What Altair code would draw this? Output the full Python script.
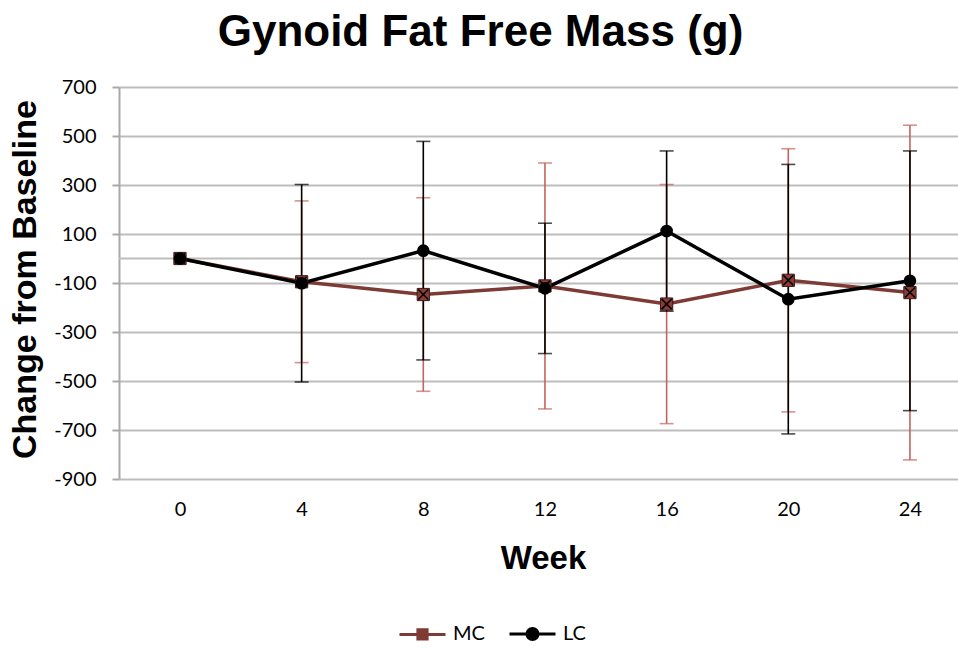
import altair as alt
import pandas as pd

# Change from baseline in gynoid fat free mass (g), mean and error, per week
weeks = [0, 4, 8, 12, 16, 20, 24]
series_names = ["MC", "LC"]
mc_mean = [0, -95, -147, -112, -186, -89, -139]
mc_err = [0, 330, 395, 502, 488, 537, 683]
lc_mean = [0, -101, 32, -122, 112, -166, -91]
lc_err = [0, 403, 446, 266, 327, 550, 530]
y_ticks = [700, 500, 300, 100, -100, -300, -500, -700, -900]

rows = []
for name, means, errs in (("MC", mc_mean, mc_err), ("LC", lc_mean, lc_err)):
    for w, m, e in zip(weeks, means, errs):
        rows.append({"week": w, "series": name, "mean": m,
                     "lo": m - e, "hi": m + e, "err": e})
df = pd.DataFrame(rows)

MC_LINE = "#7E3A35"
MC_BAR = "#C4645E"
MC_FILL = "#8E3C36"
LC_COLOR = "#000000"
GRID = "#BDBDBD"

x_scale = alt.Scale(domain=[-2.005, 25.58], nice=False, zero=False)
y_scale = alt.Scale(domain=[-900, 700], nice=False, zero=False)

x_enc = alt.X("week:Q", scale=x_scale,
              axis=alt.Axis(values=weeks, grid=False, domain=False, ticks=False,
                            labelFont="Lato", labelFontSize=20, labelColor="black",
                            labelPadding=20, labelFlush=False,
                            title="Week", titleFont="Liberation Sans",
                            titleFontSize=33, titleFontWeight="bold",
                            titleColor="black", titleX=424, titleY=89,
                            titleBaseline="alphabetic"))
y_enc = alt.Y("mean:Q", scale=y_scale,
              axis=alt.Axis(values=y_ticks, grid=True, gridColor=GRID, gridWidth=2,
                            domainColor="#A8A8A8", domainWidth=2,
                            tickColor="#A8A8A8", tickSize=7, tickWidth=2,
                            labelFont="Lato", labelFontSize=20, labelColor="black",
                            labelPadding=16, labelFlush=False,
                            labelExpr="'' + datum.value",
                            title="Change from Baseline", titleFont="Liberation Sans",
                            titleFontSize=34, titleFontWeight="bold",
                            titleColor="black", titleX=-94, titleY=192,
                            titleBaseline="middle"))

base = alt.Chart(df)

# horizontal line at zero
zero_line = alt.Chart(pd.DataFrame({"v": [0]})).mark_rule(
    color=GRID, strokeWidth=2).encode(y=alt.Y("v:Q", scale=y_scale))


def error_bars(name, color):
    src = base.transform_filter(
        (alt.datum.series == name) & (alt.datum.err > 0))
    stem = src.mark_rule(color=color, strokeWidth=1.6).encode(
        x=x_enc, y=alt.Y("lo:Q", scale=y_scale), y2="hi:Q")
    cap_lo = src.mark_tick(color=color, orient="horizontal", size=14,
                           thickness=1.6).encode(
        x=x_enc, y=alt.Y("lo:Q", scale=y_scale))
    cap_hi = src.mark_tick(color=color, orient="horizontal", size=14,
                           thickness=1.6).encode(
        x=x_enc, y=alt.Y("hi:Q", scale=y_scale))
    return stem + cap_lo + cap_hi


mc_bars = error_bars("MC", MC_BAR)
lc_bars = error_bars("LC", LC_COLOR)

mc_line = base.transform_filter(alt.datum.series == "MC").mark_line(
    color=MC_LINE, strokeWidth=3.5).encode(x=x_enc, y=y_enc)
lc_line = base.transform_filter(alt.datum.series == "LC").mark_line(
    color=LC_COLOR, strokeWidth=3.5).encode(x=x_enc, y=y_enc)

# legend symbols: line segment with the series marker
mc_path = ("M-1,0H1M-0.2,-0.2H0.2V0.2H-0.2Z"
           "M-0.2,-0.2L0.2,0.2M0.2,-0.2L-0.2,0.2")
lc_path = "M-1,0H1M0.24,0A0.24,0.24,0,1,1,-0.24,0A0.24,0.24,0,1,1,0.24,0Z"
legend = alt.Legend(title=None, orient="none", legendX=279, legendY=522,
                    direction="horizontal", symbolSize=2116,
                    symbolStrokeWidth=3, symbolOpacity=1,
                    labelFont="Lato", labelFontSize=20,
                    labelColor="black", labelOffset=6, columnPadding=18)
legend_carrier = base.transform_filter(alt.datum.week == 0).mark_point(
    filled=True, size=1, strokeWidth=0.5, opacity=1).encode(
    x=x_enc, y=y_enc,
    fill=alt.Fill("series:N", scale=alt.Scale(domain=series_names,
                                               range=[MC_FILL, LC_COLOR]),
                  legend=legend),
    stroke=alt.Stroke("series:N", scale=alt.Scale(domain=series_names,
                                                   range=[MC_LINE, LC_COLOR]),
                      legend=legend),
    shape=alt.Shape("series:N", scale=alt.Scale(domain=series_names,
                                                 range=[mc_path, lc_path]),
                    legend=legend),
)

mc_square = base.transform_filter(alt.datum.series == "MC").mark_point(
    shape="square", filled=True, size=150, fill=MC_FILL, stroke="#3A1A18",
    strokeWidth=1, opacity=1).encode(x=x_enc, y=y_enc)
mc_cross = base.transform_filter(alt.datum.series == "MC").mark_point(
    shape="M-1,-1L1,1M1,-1L-1,1", size=100, filled=False, stroke="black",
    strokeWidth=1.6, opacity=1).encode(x=x_enc, y=y_enc)
lc_dot = base.transform_filter(alt.datum.series == "LC").mark_point(
    shape="circle", filled=True, size=160, fill=LC_COLOR, opacity=1).encode(
    x=x_enc, y=y_enc)

chart = alt.layer(
    zero_line, mc_bars, lc_bars, legend_carrier, mc_line, lc_line,
    mc_square, mc_cross, lc_dot
).properties(
    width=839, height=392,
    autosize=alt.AutoSizeParams(type="none"),
    padding={"left": 119, "top": 87, "right": 0, "bottom": 173},
    title=alt.TitleParams("Gynoid Fat Free Mass (g)", font="Liberation Sans",
                          fontSize=44, fontWeight="bold", color="black",
                          anchor="middle", dx=-58, offset=22),
    background="white",
).configure_view(stroke=None)

chart.save("out.html", embed_options={"renderer": "svg", "actions": False})
